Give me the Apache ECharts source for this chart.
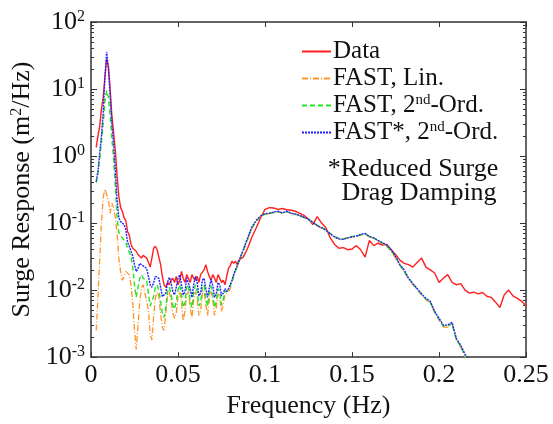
<!DOCTYPE html>
<html><head><meta charset="utf-8">
<script src="https://cdn.jsdelivr.net/npm/echarts@6/dist/echarts.min.js"></script>
<style>html,body{margin:0;padding:0;background:#fff}#c{width:553px;height:424px}</style>
</head><body><div id="c"></div><script>
const freq = [
0.003,0.004,0.005,0.006,0.007,0.008,0.009,0.010,0.011,0.012,0.013,0.014,0.015,0.016,0.017,0.018,0.019,0.020,
0.021,0.022,0.023,0.024,0.025,0.026,0.027,0.028,0.029,0.030,0.031,0.032,0.033,0.034,0.035,0.036,0.037,0.038,0.039,0.040,
0.041,0.042,0.043,0.044,0.045,0.046,0.047,0.048,0.049,0.050,0.051,0.052,0.053,0.054,0.055,0.056,0.057,0.058,0.059,0.060,
0.061,0.062,0.063,0.064,0.065,0.066,0.067,0.068,0.069,0.070,0.071,0.072,0.073,0.074,0.075,0.076,0.077,0.078,0.079,0.080,
0.081,0.082,0.083,0.084,0.085,
0.0875,0.09,0.0925,0.095,0.0975,0.1,0.1025,0.105,0.1075,0.11,0.1125,0.115,0.1175,0.12,0.1225,0.125,0.1275,0.13,0.1325,0.135,
0.1375,0.14,0.1425,0.145,0.1475,0.15,0.1525,0.155,0.1575,0.16,0.1625,0.165,0.1675,0.17,0.1725,0.175,0.1775,0.18,0.1825,0.185,
0.1875,0.19,0.1925,0.195,0.1975,0.2,0.2025,0.205,0.2075,0.21,0.2125,0.215,0.2175,0.22,0.2225,0.225,0.2275,0.23,0.2325,0.235,
0.2375,0.24,0.2425,0.245,0.2475,0.25];

const dataResp = [
1.35,2.0,2.8,5.0,7.5,15,28,22,10,4,2.2,1.2,0.5,0.25,0.17,0.15,0.12,0.11,
0.075,0.066,0.048,0.042,0.040,0.038,0.034,0.033,0.030,0.033,0.032,0.030,0.026,0.022,0.030,0.042,0.045,0.040,0.038,0.024,
0.016,0.012,0.011,0.013,0.012,0.014,0.015,0.013,0.016,0.012,0.014,0.019,0.015,0.013,0.017,0.016,0.013,0.017,0.015,0.014,
0.016,0.013,0.017,0.016,0.020,0.024,0.019,0.016,0.014,0.017,0.015,0.013,0.017,0.015,0.013,0.014,0.012,0.016,0.021,0.023,
0.027,0.025,0.027,0.024,0.028,
0.031,0.042,0.062,0.085,0.12,0.16,0.17,0.168,0.160,0.165,0.158,0.155,0.150,0.140,0.130,0.115,0.095,0.125,0.100,0.085,
0.060,0.048,0.042,0.043,0.040,0.041,0.046,0.040,0.031,0.055,0.046,0.050,0.047,0.048,0.040,0.034,0.028,0.025,0.024,0.022,
0.026,0.030,0.022,0.020,0.018,0.013,0.015,0.017,0.013,0.012,0.0125,0.010,0.009,0.0093,0.0088,0.0092,0.0081,0.0078,0.0066,0.0055,
0.0085,0.010,0.0082,0.0075,0.0068,0.0058];

const fastLin = [
0.0025,0.008,0.028,0.10,0.24,0.32,0.34,0.22,0.14,0.20,0.17,0.12,0.07,0.03,0.019,0.014,0.016,0.019,
0.018,0.017,0.012,0.0065,0.0025,0.0013,0.003,0.0065,0.011,0.012,0.009,0.0095,0.005,0.0022,0.0018,0.004,0.0075,0.0095,0.008,0.0045,
0.0028,0.0025,0.0045,0.0085,0.0095,0.007,0.0045,0.0038,0.0045,0.008,0.0095,0.0065,0.0035,0.0048,0.0085,0.0095,0.0055,0.0038,0.007,0.0095,
0.0075,0.0042,0.0048,0.0088,0.0098,0.006,0.0042,0.0072,0.0095,0.007,0.0042,0.0055,0.0088,0.0078,0.0048,0.0062,0.0085,0.009,0.0095,0.0105,
0.013,0.016,0.019,0.022,0.026,
0.038,0.057,0.084,0.107,0.125,0.135,0.138,0.143,0.147,0.140,0.147,0.139,0.134,0.128,0.120,0.112,0.101,0.091,0.085,0.078,
0.069,0.062,0.058,0.057,0.060,0.062,0.063,0.066,0.068,0.062,0.059,0.054,0.049,0.045,0.038,0.030,0.0235,0.0185,0.0148,0.012,
0.010,0.0085,0.0072,0.0065,0.0046,0.0036,0.0028,0.0028,0.0031,0.0018,0.0014,0.0010,0.00086];

const fast2nd = [
0.40,0.55,0.9,1.6,3.0,6.5,9.5,7.5,4.0,1.8,0.9,0.35,0.12,0.072,0.065,0.060,0.058,0.052,
0.042,0.040,0.032,0.022,0.012,0.0078,0.011,0.015,0.017,0.015,0.016,0.014,0.009,0.0058,0.0055,0.008,0.011,0.012,0.010,0.0068,
0.0045,0.0039,0.0055,0.0095,0.011,0.0088,0.006,0.0052,0.0068,0.010,0.012,0.0085,0.0055,0.0065,0.011,0.012,0.007,0.0055,0.009,0.012,
0.0095,0.0058,0.0065,0.011,0.012,0.0075,0.0058,0.009,0.0115,0.0085,0.0055,0.0068,0.0105,0.0095,0.006,0.0072,0.0095,0.0098,0.010,0.0115,
0.0135,0.0165,0.0195,0.0225,0.0265,
0.039,0.058,0.085,0.108,0.126,0.136,0.139,0.144,0.148,0.141,0.148,0.140,0.135,0.129,0.121,0.113,0.102,0.092,0.086,0.079,
0.070,0.063,0.059,0.058,0.061,0.063,0.064,0.067,0.069,0.063,0.060,0.055,0.050,0.046,0.039,0.031,0.024,0.019,0.015,0.0123,
0.0103,0.0086,0.0073,0.0066,0.0047,0.0037,0.0029,0.0029,0.0032,0.0018,0.00145,0.00105,0.00088];

const fastStar2nd = [
0.42,0.6,1.1,2.0,4.5,15,36,20,8,3,1.5,0.6,0.22,0.12,0.105,0.10,0.095,0.08,
0.052,0.045,0.038,0.032,0.024,0.019,0.021,0.025,0.026,0.023,0.024,0.021,0.016,0.012,0.011,0.013,0.016,0.017,0.015,0.011,
0.008,0.0075,0.009,0.013,0.0155,0.013,0.0095,0.0085,0.011,0.015,0.017,0.012,0.0085,0.0095,0.015,0.016,0.0105,0.0078,0.012,0.016,
0.013,0.0082,0.009,0.014,0.015,0.0105,0.0078,0.011,0.0145,0.0115,0.0078,0.0088,0.013,0.012,0.0082,0.009,0.0105,0.0095,0.0105,0.012,
0.014,0.017,0.020,0.023,0.027,
0.040,0.060,0.088,0.110,0.128,0.138,0.140,0.146,0.150,0.142,0.150,0.141,0.136,0.130,0.122,0.114,0.103,0.092,0.085,0.078,
0.069,0.062,0.058,0.057,0.060,0.062,0.064,0.068,0.070,0.063,0.060,0.055,0.051,0.047,0.040,0.032,0.024,0.020,0.015,0.0125,
0.0105,0.0088,0.0075,0.0068,0.0048,0.0038,0.0030,0.0030,0.0033,0.0019,0.0015,0.0011,0.0009];

const seriesNames = ['Data', 'FAST, Lin.', 'FAST, 2nd-Ord.', 'FAST*, 2nd-Ord.'];
const legendLabels = ['Data', 'FAST, Lin.', 'FAST, 2{sup|nd}-Ord.', 'FAST*, 2{sup|nd}-Ord.'];
const yMinorTicks = [
0.002,0.003,0.004,0.005,0.006,0.007,0.008,0.009,
0.02,0.03,0.04,0.05,0.06,0.07,0.08,0.09,
0.2,0.3,0.4,0.5,0.6,0.7,0.8,0.9,
2,3,4,5,6,7,8,9,
20,30,40,50,60,70,80,90];
const noteLines = ['*Reduced Surge', 'Drag Damping'];

const FONT = 'Liberation Serif';
const AX = '#333';
function pairs(vals) { return vals.map((v, i) => [freq[i], v]); }
// minor ticks drawn on an overlaid linear axis expressed in decades (exponent space)
const minorTickExp = yMinorTicks.map(v => Math.log10(v));

const chart = echarts.init(document.getElementById('c'), null, {renderer: 'canvas'});
const grid = {left: 91, right: 27, top: 22, bottom: 60};
const supRich = {
  sup: {fontFamily: FONT, fontSize: 16, color: '#111', verticalAlign: 'top', lineHeight: 16},
  base: {fontFamily: FONT, fontSize: 26, color: '#111'}
};
function yLog(pos) {
  return {
    type: 'log', logBase: 10, min: 0.001, max: 100, position: pos,
    axisLine: {show: true, onZero: false, lineStyle: {color: AX, width: 1.5}},
    splitLine: {show: false}, minorTick: {show: false}
  };
}
function yMinor(pos) {
  return {
    type: 'value', min: -3, max: 2, position: pos,
    axisLine: {show: false, onZero: false}, splitLine: {show: false}, axisLabel: {show: false},
    axisTick: {show: true, inside: true, length: 3, lineStyle: {color: AX}, customValues: minorTickExp}
  };
}
const option = {
  animation: false,
  backgroundColor: '#fff',
  grid: grid,
  legend: {
    orient: 'vertical', left: 296, top: 34, itemWidth: 29, itemHeight: 12, itemGap: 2,
    data: seriesNames,
    itemStyle: {opacity: 0},
    formatter: function (name) { return legendLabels[seriesNames.indexOf(name)]; },
    textStyle: {fontFamily: FONT, fontSize: 25, color: '#111', padding: [0, 0, 0, -3],
      rich: {sup: {fontFamily: FONT, fontSize: 15, color: '#111', verticalAlign: 'top', lineHeight: 15}}}
  },
  xAxis: [
    {type: 'value', min: 0, max: 0.25, interval: 0.05, position: 'bottom',
      name: 'Frequency (Hz)', nameLocation: 'middle', nameGap: 33,
      nameTextStyle: {fontFamily: FONT, fontSize: 26, color: '#111'},
      axisLine: {show: true, onZero: false, lineStyle: {color: AX, width: 1.5}},
      axisTick: {inside: true, length: 5, lineStyle: {color: AX}},
      axisLabel: {fontFamily: FONT, fontSize: 26, color: '#111', margin: 5},
      splitLine: {show: false}},
    {type: 'value', min: 0, max: 0.25, interval: 0.05, position: 'top',
      axisLine: {show: true, onZero: false, lineStyle: {color: AX, width: 1.5}},
      axisTick: {inside: true, length: 5, lineStyle: {color: AX}},
      axisLabel: {show: false}, splitLine: {show: false}}
  ],
  yAxis: [
    Object.assign(yLog('left'), {
      name: 'Surge Response (m{sup|2}/Hz)', nameLocation: 'middle', nameGap: 56,
      nameTextStyle: {fontFamily: FONT, fontSize: 26, color: '#111',
        rich: {sup: {fontFamily: FONT, fontSize: 16, color: '#111', verticalAlign: 'top', lineHeight: 16}}},
      axisTick: {inside: true, length: 6, lineStyle: {color: AX}},
      axisLabel: {margin: 6, fontFamily: FONT, fontSize: 26, color: '#111',
        formatter: function (v) { const e = Math.round(Math.log10(v)); return '{base|10}{sup|' + e + '}'; },
        rich: supRich}
    }),
    yMinor('left'),
    Object.assign(yLog('right'), {
      axisTick: {inside: true, length: 6, lineStyle: {color: AX}},
      axisLabel: {show: false}
    }),
    yMinor('right')
  ],
  series: [
    {name: seriesNames[0], type: 'line', data: pairs(dataResp), symbol: 'none', showSymbol: false,
      lineStyle: {color: '#ff1f1f', width: 1.4, type: 'solid'}, itemStyle: {color: '#ff1f1f'}},
    {name: seriesNames[1], type: 'line', data: pairs(fastLin), symbol: 'none', showSymbol: false,
      lineStyle: {color: '#ff9428', width: 1.3, type: [6, 2, 1, 2]}, itemStyle: {color: '#ff9428'}},
    {name: seriesNames[2], type: 'line', data: pairs(fast2nd), symbol: 'none', showSymbol: false,
      lineStyle: {color: '#22e622', width: 1.4, type: [5, 3]}, itemStyle: {color: '#22e622'}},
    {name: seriesNames[3], type: 'line', data: pairs(fastStar2nd), symbol: 'none', showSymbol: false,
      lineStyle: {color: '#1f1fff', width: 1.4, type: [2, 1]}, itemStyle: {color: '#1f1fff'}}
  ],
  graphic: [
    {type: 'text', x: 413, y: 156, style: {text: noteLines[0], font: '26px "Liberation Serif"', fill: '#111',
      align: 'center', textAlign: 'center', verticalAlign: 'top', textVerticalAlign: 'top'}},
    {type: 'text', x: 419, y: 180, style: {text: noteLines[1], font: '26px "Liberation Serif"', fill: '#111',
      align: 'center', textAlign: 'center', verticalAlign: 'top', textVerticalAlign: 'top'}}
  ]
};
chart.setOption(option);
</script></body></html>
